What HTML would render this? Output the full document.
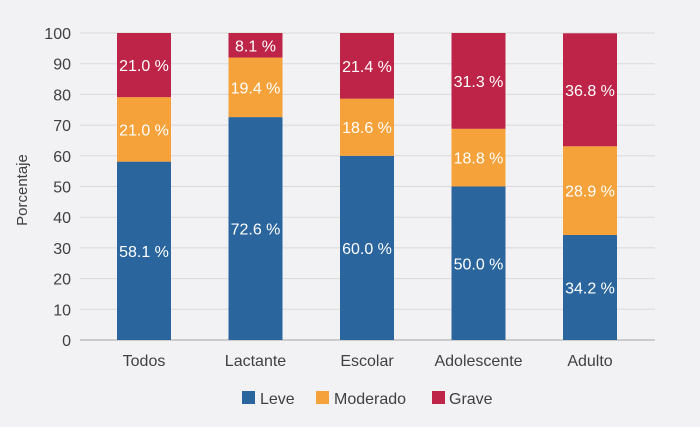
<!DOCTYPE html>
<html><head><meta charset="utf-8"><style>
body{margin:0;background:#f2f2f4;}
svg{display:block;font-family:"Liberation Sans",Arial,sans-serif;}
</style></head><body>
<svg id="c" width="700" height="427">
<rect width="700" height="427" fill="#f2f2f4"/>
<g id="grid"></g><g id="bars"></g><g id="labels"></g>
<text transform="translate(27,190) rotate(-90)" text-anchor="middle" font-size="15" fill="#404040">Porcentaje</text>
<g>
<rect x="242" y="391" width="13" height="13" fill="#2a659e"/>
<text x="260" y="404" font-size="16" fill="#404040">Leve</text>
<rect x="316" y="391" width="13" height="13" fill="#f5a23a"/>
<text x="334" y="404" font-size="16" fill="#404040">Moderado</text>
<rect x="432" y="391" width="13" height="13" fill="#bd2447"/>
<text x="449" y="404" font-size="16" fill="#404040">Grave</text>
</g>
</svg>
<script>
const categories=["Todos","Lactante","Escolar","Adolescente","Adulto"];
const leve=[58.1,72.6,60.0,50.0,34.2];
const moderado=[21.0,19.4,18.6,18.8,28.9];
const grave=[21.0,8.1,21.4,31.3,36.8];
const yTicks=[0,10,20,30,40,50,60,70,80,90,100];
const NS="http://www.w3.org/2000/svg";
const y=v=>340-v*3.07;
const xc=i=>144+i*111.5;
const bw=54;
function mk(tag,attrs,parent){const e=document.createElementNS(NS,tag);for(const k in attrs)e.setAttribute(k,attrs[k]);document.getElementById(parent).appendChild(e);return e;}
yTicks.forEach(t=>{
 const l=mk("line",{x1:80,x2:655,y1:y(t),y2:y(t),stroke:t===0?"#bfbfbf":"#d9d9d9","stroke-width":t===0?1.5:1},"grid");
 
 
 const tx=mk("text",{x:71,y:y(t)+6,"text-anchor":"end","font-size":16,fill:"#404040"},"grid");
 tx.textContent=t;
 
 
});
const series=[[leve,"#2a659e","leve"],[moderado,"#f5a23a","moderado"],[grave,"#bd2447","grave"]];
categories.forEach((c,i)=>{
 let base=0;
 series.forEach(([arr,col,nm])=>{
  const v=arr[i];const top=Math.min(100,base+v);
  const r=mk("rect",{x:xc(i)-bw/2,y:y(top),width:bw,height:y(base)-y(top),fill:col},"bars");
  
  
  const t=mk("text",{x:xc(i),y:(y(base)+y(top))/2+6,"text-anchor":"middle","font-size":16,fill:"#fff"},"labels");
  t.textContent=v.toFixed(1)+" %";
  
  
  base=top;
 });
 const ct=mk("text",{x:xc(i),y:366,"text-anchor":"middle","font-size":16,fill:"#404040"},"labels");
 ct.textContent=c;
 
 
});
</script>
</body></html>
